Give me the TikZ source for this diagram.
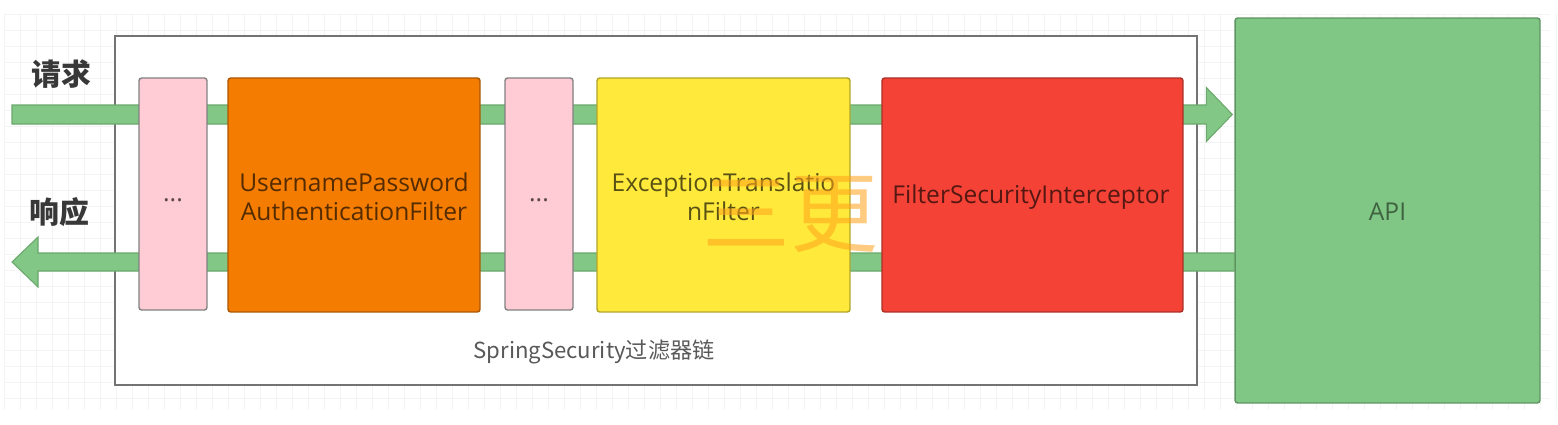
\documentclass[tikz,border=0pt]{standalone}
\usepackage{fontspec}
\setmainfont{Open Sans}
\newfontfamily\cjk{Noto Sans CJK SC}
\usetikzlibrary{calc}
\definecolor{bandfill}{HTML}{82C785}
\definecolor{bandline}{HTML}{6AA86C}
\definecolor{apifill}{HTML}{80C684}
\definecolor{apiline}{HTML}{5E9461}
\definecolor{pinkfill}{HTML}{FFCCD6}
\definecolor{orangefill}{HTML}{F47C00}
\definecolor{yellowfill}{HTML}{FFEA3B}
\definecolor{redfill}{HTML}{F44336}
\definecolor{gridc}{HTML}{F4F4F4}
\definecolor{wm}{HTML}{FFA21A}
\tikzset{
  filterbox/.style={draw=#1!70!black, rounded corners=1.5pt, line width=0.8pt, inner sep=0pt},
  boxtext/.style={text=black, text opacity=0.65, font=\fontsize{14}{16.5}\selectfont, align=center},
  band/.style={fill=bandfill, draw=bandline, line width=0.6pt},
}
\begin{document}
\begin{tikzpicture}[x=0.02cm,y=-0.02cm]
\useasboundingbox (0,0) rectangle (1558,424);
\fill[white] (0,0) rectangle (1558,424);
% faint background grid
\foreach \i in {0,...,97} {\draw[gridc, line width=0.4pt] (\i*16+4,14) -- (\i*16+4,410);}
\foreach \j in {0,...,24} {\draw[gridc, line width=0.4pt] (4,\j*16+14) -- (1550,\j*16+14);}
% chain container
\node[draw=black!55, fill=white, line width=0.8pt, minimum width=21.64cm, minimum height=6.98cm, inner sep=0pt] (chain) at (656,210.5) {};
\node[text=black!65, font=\cjk\fontsize{12.6}{15}\selectfont] (chainlbl) at (594,352) {SpringSecurity过滤器链};
% endpoints
\coordinate (reqin) at (12,114.5);
\coordinate (respout) at (12,262);
% API box
\node[draw=apiline, fill=apifill, rounded corners=1.5pt, line width=0.8pt, minimum width=6.1cm, minimum height=7.7cm, inner sep=0pt] (api) at (1387.5,210.5) {};
% request band
\draw[band] ($(reqin)+(0,-9.5)$) -- ($(api.west|-reqin)+(-28,-9.5)$) -- ($(api.west|-reqin)+(-28,-27)$) -- ($(api.west|-reqin)+(-2,0)$) -- ($(api.west|-reqin)+(-28,27)$) -- ($(api.west|-reqin)+(-28,9.5)$) -- ($(reqin)+(0,9.5)$) -- cycle;
% response band
\draw[band] ($(api.west|-respout)+(0,-9)$) -- ($(respout)+(26,-9)$) -- ($(respout)+(26,-25)$) -- (respout) -- ($(respout)+(26,25)$) -- ($(respout)+(26,9)$) -- ($(api.west|-respout)+(0,9)$) -- cycle;
% filters
\node[filterbox=gray, draw=black!50, fill=pinkfill, minimum width=1.36cm, minimum height=4.64cm] (f1) at (173,194) {};
\node[filterbox=orangefill, fill=orangefill, minimum width=5.04cm, minimum height=4.68cm] (f2) at (354,195) {};
\node[filterbox=gray, draw=black!50, fill=pinkfill, minimum width=1.36cm, minimum height=4.64cm] (f3) at (539,194) {};
\node[filterbox=yellowfill, fill=yellowfill, minimum width=5.06cm, minimum height=4.68cm] (f4) at (723.5,195) {};
\node[filterbox=redfill, fill=redfill, minimum width=6.02cm, minimum height=4.68cm] (f5) at (1032.5,195) {};
% texts
\node[boxtext] (t1) at (173,200) {...};
\node[boxtext] (t2) at (354,197) {UsernamePassword\\AuthenticationFilter};
\node[boxtext] (t3) at (539,200) {...};
\node[boxtext] (t4) at (723.5,197) {ExceptionTranslatio\\nFilter};
\node[boxtext] (t5) at (1031,197) {FilterSecurityInterceptor};
\node[boxtext, text=apiline!60!black, text opacity=0.9] (t6) at (1387.5,212) {API};
% side labels
\node[text=black!78, font=\cjk\bfseries\fontsize{17}{20}\selectfont, anchor=west] (req) at (25,74) {请求};
\node[text=black!78, font=\cjk\bfseries\fontsize{17}{20}\selectfont, anchor=west] (resp) at (23,212) {响应};
% watermark
\node[text=wm, text opacity=0.55, font=\cjk\fontsize{50}{56}\selectfont] (wmark) at (790,214) {三更};
\end{tikzpicture}
\end{document}
